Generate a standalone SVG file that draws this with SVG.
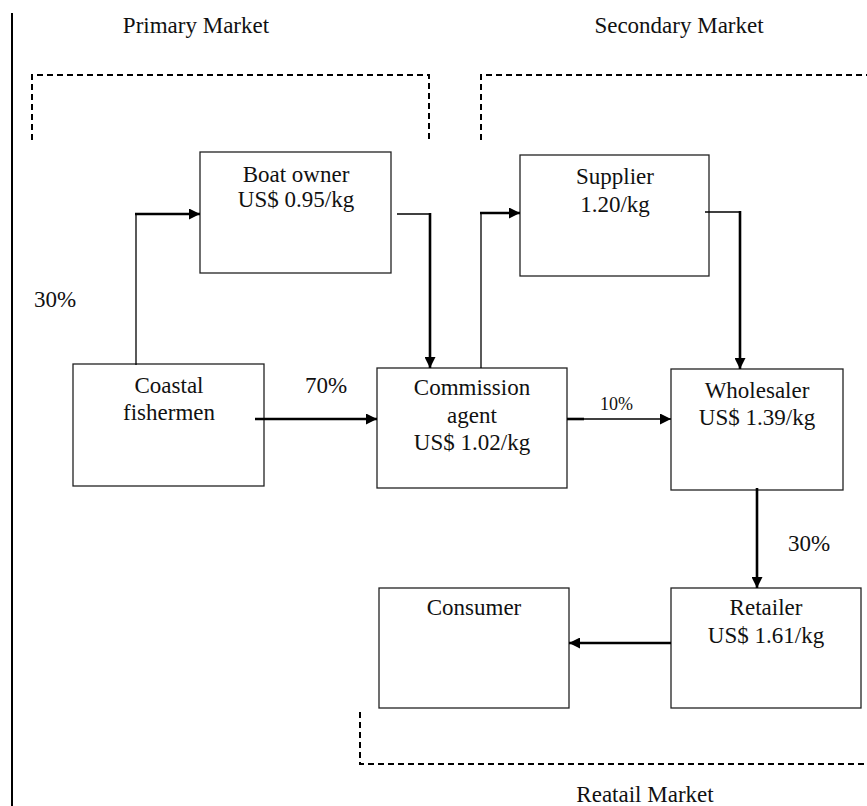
<svg xmlns="http://www.w3.org/2000/svg" width="867" height="806" viewBox="0 0 867 806" font-family="'Liberation Serif', 'DejaVu Serif', serif">
<style>
text{font-family:'Liberation Serif','DejaVu Serif',serif;font-size:23px;fill:#111;}
.c{text-anchor:middle;}
.box{fill:#fff;stroke:#222;stroke-width:1.3;}
.thin{stroke:#000;stroke-width:1.3;fill:none;}
.thick{stroke:#000;stroke-width:2.6;fill:none;}
.dash{stroke:#000;stroke-width:2;fill:none;stroke-dasharray:6 4;}
</style>
<defs>
<marker id="ah" viewBox="0 0 10 10" refX="10" refY="5" markerWidth="11" markerHeight="11" markerUnits="userSpaceOnUse" orient="auto">
<path d="M0,0 L10,5 L0,10 z" fill="#000"/>
</marker>
</defs>
<line x1="12" y1="13" x2="12" y2="806" stroke="#000" stroke-width="2"/>
<g id="regions">
<path class="dash" d="M32,140 V75 H429 V140"/>
<path class="dash" d="M481,140 V75 H867"/>
<path class="dash" d="M360,712 V764 H867"/>
<text class="c" x="196" y="33">Primary Market</text>
<text class="c" x="679" y="33">Secondary Market</text>
<text class="c" x="645" y="802">Reatail Market</text>
</g>
<g id="boat-owner">
<rect class="box" x="200" y="152" width="191" height="121"/>
<text class="c" x="296" y="182">Boat owner</text>
<text class="c" x="296" y="207">US$ 0.95/kg</text>
</g>
<g id="supplier">
<rect class="box" x="520" y="155" width="189" height="121"/>
<text class="c" x="615" y="184">Supplier</text>
<text class="c" x="615" y="212">1.20/kg</text>
</g>
<g id="coastal-fishermen">
<rect class="box" x="73" y="364" width="191" height="122"/>
<text class="c" x="169" y="393">Coastal</text>
<text class="c" x="169" y="420">fishermen</text>
</g>
<g id="commission-agent">
<rect class="box" x="377" y="368" width="190" height="120"/>
<text class="c" x="472" y="395">Commission</text>
<text class="c" x="472" y="423">agent</text>
<text class="c" x="472" y="450">US$ 1.02/kg</text>
</g>
<g id="wholesaler">
<rect class="box" x="671" y="369" width="172" height="121"/>
<text class="c" x="757" y="398">Wholesaler</text>
<text class="c" x="757" y="425">US$ 1.39/kg</text>
</g>
<g id="consumer">
<rect class="box" x="379" y="588" width="190" height="120"/>
<text class="c" x="474" y="615">Consumer</text>
</g>
<g id="retailer">
<rect class="box" x="671" y="588" width="190" height="120"/>
<text class="c" x="766" y="615">Retailer</text>
<text class="c" x="766" y="643">US$ 1.61/kg</text>
</g>
<g id="connectors">
<line class="thin" x1="136" y1="365" x2="136" y2="214"/>
<line class="thick" x1="135" y1="214" x2="200" y2="214" marker-end="url(#ah)"/>
<line class="thin" x1="397" y1="214" x2="430" y2="214"/>
<line class="thick" x1="430" y1="213" x2="430" y2="368" marker-end="url(#ah)"/>
<line class="thick" x1="255" y1="419" x2="377" y2="419" marker-end="url(#ah)"/>
<line class="thin" x1="481" y1="368" x2="481" y2="213"/>
<line class="thick" x1="480" y1="213" x2="520" y2="213" marker-end="url(#ah)"/>
<line class="thin" x1="705" y1="212" x2="740" y2="212"/>
<line class="thick" x1="740" y1="211" x2="740" y2="369" marker-end="url(#ah)"/>
<line class="thick" x1="567" y1="419" x2="584" y2="419"/>
<line class="thin" x1="583" y1="419" x2="671" y2="419" marker-end="url(#ah)"/>
<line class="thick" x1="757" y1="488" x2="757" y2="588" marker-end="url(#ah)"/>
<line class="thick" x1="671" y1="643" x2="569" y2="643" marker-end="url(#ah)"/>
<text x="34" y="307">30%</text>
<text x="305" y="393">70%</text>
<text x="600" y="410" style="font-size:18px">10%</text>
<text x="788" y="551">30%</text>
</g>
</svg>
